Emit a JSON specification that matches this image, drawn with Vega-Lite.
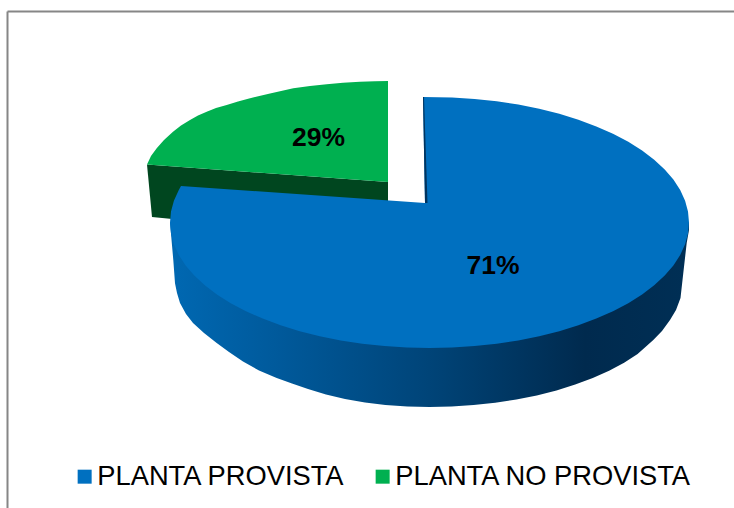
{
"$schema":"https://vega.github.io/schema/vega-lite/v6.json",
"width":727,"height":497,
"autosize":{"type":"none"},
"padding":{"left":7,"top":11,"right":0,"bottom":0},
"background":"white",
"view":{"stroke":null},
"config":{"font":"Liberation Sans"},
"datasets":{
"greenWall":[{"i":1,"x":147,"y":164.5},{"i":2,"x":388,"y":182},{"i":3,"x":388,"y":240},{"i":4,"x":152,"y":217}],
"blueWall":[{"i":1,"x":689,"y":222.5},{"i":2,"x":689,"y":230},{"i":3,"x":686.7,"y":243},{"i":4,"x":683.3,"y":273},{"i":5,"x":680.5,"y":298},{"i":6,"x":676,"y":310},{"i":7,"x":670,"y":320},{"i":8,"x":662,"y":331},{"i":9,"x":653.3,"y":340},{"i":10,"x":637.6,"y":354.1},{"i":11,"x":624.1,"y":362.7},{"i":12,"x":609.1,"y":370.7},{"i":13,"x":592.8,"y":378},{"i":14,"x":575.2,"y":384.6},{"i":15,"x":556.5,"y":390.4},{"i":16,"x":536.8,"y":395.4},{"i":17,"x":516.4,"y":399.5},{"i":18,"x":495.2,"y":402.8},{"i":19,"x":473.6,"y":405.1},{"i":20,"x":451.6,"y":406.5},{"i":21,"x":429.5,"y":407},{"i":22,"x":407.4,"y":406.5},{"i":23,"x":385.4,"y":405},{"i":24,"x":365,"y":402.5},{"i":25,"x":345,"y":399},{"i":26,"x":326,"y":394.5},{"i":27,"x":308,"y":389},{"i":28,"x":292,"y":383.5},{"i":29,"x":276.7,"y":378},{"i":30,"x":259,"y":370.5},{"i":31,"x":243,"y":361.5},{"i":32,"x":229,"y":352},{"i":33,"x":216.7,"y":343},{"i":34,"x":204,"y":333},{"i":35,"x":193,"y":323},{"i":36,"x":186,"y":314},{"i":37,"x":180,"y":303},{"i":38,"x":177,"y":293},{"i":39,"x":175,"y":283.3},{"i":40,"x":173.3,"y":260},{"i":41,"x":170,"y":222.5}],
"blueInner":[{"i":1,"x":423,"y":97},{"i":2,"x":424,"y":97},{"i":3,"x":427.5,"y":203},{"i":4,"x":425,"y":203}],
"tops":[
{"slice":"PLANTA NO PROVISTA","i":1,"x":388,"y":81},{"slice":"PLANTA NO PROVISTA","i":2,"x":388,"y":182},{"slice":"PLANTA NO PROVISTA","i":3,"x":147,"y":164.5},{"slice":"PLANTA NO PROVISTA","i":4,"x":151,"y":156},{"slice":"PLANTA NO PROVISTA","i":5,"x":156.7,"y":148.3},{"slice":"PLANTA NO PROVISTA","i":6,"x":164,"y":140},{"slice":"PLANTA NO PROVISTA","i":7,"x":173,"y":131.7},{"slice":"PLANTA NO PROVISTA","i":8,"x":181,"y":125.5},{"slice":"PLANTA NO PROVISTA","i":9,"x":190,"y":120},{"slice":"PLANTA NO PROVISTA","i":10,"x":198,"y":115.5},{"slice":"PLANTA NO PROVISTA","i":11,"x":206.7,"y":111.7},{"slice":"PLANTA NO PROVISTA","i":12,"x":216,"y":108},{"slice":"PLANTA NO PROVISTA","i":13,"x":226.7,"y":105},{"slice":"PLANTA NO PROVISTA","i":14,"x":238,"y":101.5},{"slice":"PLANTA NO PROVISTA","i":15,"x":250,"y":98.3},{"slice":"PLANTA NO PROVISTA","i":16,"x":270,"y":93.5},{"slice":"PLANTA NO PROVISTA","i":17,"x":293.3,"y":88.3},{"slice":"PLANTA NO PROVISTA","i":18,"x":310,"y":86},{"slice":"PLANTA NO PROVISTA","i":19,"x":326.7,"y":84.3},{"slice":"PLANTA NO PROVISTA","i":20,"x":343,"y":82.8},{"slice":"PLANTA NO PROVISTA","i":21,"x":360,"y":81.7},{"slice":"PLANTA NO PROVISTA","i":22,"x":375,"y":81.2},
{"slice":"PLANTA PROVISTA","i":1,"x":423,"y":97},{"slice":"PLANTA PROVISTA","i":2,"x":452.1,"y":97.5},{"slice":"PLANTA PROVISTA","i":3,"x":474.6,"y":98.9},{"slice":"PLANTA PROVISTA","i":4,"x":496.7,"y":101.3},{"slice":"PLANTA PROVISTA","i":5,"x":518.3,"y":104.6},{"slice":"PLANTA PROVISTA","i":6,"x":539.2,"y":108.8},{"slice":"PLANTA PROVISTA","i":7,"x":559.3,"y":113.8},{"slice":"PLANTA PROVISTA","i":8,"x":578.4,"y":119.7},{"slice":"PLANTA PROVISTA","i":9,"x":596.3,"y":126.4},{"slice":"PLANTA PROVISTA","i":10,"x":613,"y":133.8},{"slice":"PLANTA PROVISTA","i":11,"x":628.3,"y":141.8},{"slice":"PLANTA PROVISTA","i":12,"x":642.1,"y":150.5},{"slice":"PLANTA PROVISTA","i":13,"x":654.2,"y":159.8},{"slice":"PLANTA PROVISTA","i":14,"x":664.7,"y":169.5},{"slice":"PLANTA PROVISTA","i":15,"x":673.4,"y":179.6},{"slice":"PLANTA PROVISTA","i":16,"x":680.2,"y":190},{"slice":"PLANTA PROVISTA","i":17,"x":685.1,"y":200.7},{"slice":"PLANTA PROVISTA","i":18,"x":688,"y":211.6},{"slice":"PLANTA PROVISTA","i":19,"x":689,"y":222.5},{"slice":"PLANTA PROVISTA","i":20,"x":688,"y":233.4},{"slice":"PLANTA PROVISTA","i":21,"x":685.1,"y":244.3},{"slice":"PLANTA PROVISTA","i":22,"x":680.2,"y":255},{"slice":"PLANTA PROVISTA","i":23,"x":673.4,"y":265.4},{"slice":"PLANTA PROVISTA","i":24,"x":664.7,"y":275.5},{"slice":"PLANTA PROVISTA","i":25,"x":654.2,"y":285.3},{"slice":"PLANTA PROVISTA","i":26,"x":642.1,"y":294.5},{"slice":"PLANTA PROVISTA","i":27,"x":628.3,"y":303.2},{"slice":"PLANTA PROVISTA","i":28,"x":613,"y":311.2},{"slice":"PLANTA PROVISTA","i":29,"x":596.3,"y":318.6},{"slice":"PLANTA PROVISTA","i":30,"x":578.4,"y":325.3},{"slice":"PLANTA PROVISTA","i":31,"x":559.3,"y":331.2},{"slice":"PLANTA PROVISTA","i":32,"x":539.2,"y":336.2},{"slice":"PLANTA PROVISTA","i":33,"x":518.3,"y":340.4},{"slice":"PLANTA PROVISTA","i":34,"x":496.7,"y":343.7},{"slice":"PLANTA PROVISTA","i":35,"x":474.6,"y":346.1},{"slice":"PLANTA PROVISTA","i":36,"x":452.1,"y":347.5},{"slice":"PLANTA PROVISTA","i":37,"x":429.5,"y":348},{"slice":"PLANTA PROVISTA","i":38,"x":406.9,"y":347.5},{"slice":"PLANTA PROVISTA","i":39,"x":384.4,"y":346.1},{"slice":"PLANTA PROVISTA","i":40,"x":362.3,"y":343.7},{"slice":"PLANTA PROVISTA","i":41,"x":340.7,"y":340.4},{"slice":"PLANTA PROVISTA","i":42,"x":319.8,"y":336.2},{"slice":"PLANTA PROVISTA","i":43,"x":299.7,"y":331.2},{"slice":"PLANTA PROVISTA","i":44,"x":280.6,"y":325.3},{"slice":"PLANTA PROVISTA","i":45,"x":262.7,"y":318.6},{"slice":"PLANTA PROVISTA","i":46,"x":246,"y":311.2},{"slice":"PLANTA PROVISTA","i":47,"x":230.7,"y":303.2},{"slice":"PLANTA PROVISTA","i":48,"x":216.9,"y":294.5},{"slice":"PLANTA PROVISTA","i":49,"x":204.8,"y":285.3},{"slice":"PLANTA PROVISTA","i":50,"x":194.3,"y":275.5},{"slice":"PLANTA PROVISTA","i":51,"x":185.6,"y":265.4},{"slice":"PLANTA PROVISTA","i":52,"x":178.8,"y":255},{"slice":"PLANTA PROVISTA","i":53,"x":173.9,"y":244.3},{"slice":"PLANTA PROVISTA","i":54,"x":171,"y":233.4},{"slice":"PLANTA PROVISTA","i":55,"x":170,"y":222.5},{"slice":"PLANTA PROVISTA","i":56,"x":171,"y":211.6},{"slice":"PLANTA PROVISTA","i":57,"x":173.9,"y":200.7},{"slice":"PLANTA PROVISTA","i":58,"x":178.8,"y":190},{"slice":"PLANTA PROVISTA","i":59,"x":181,"y":186},{"slice":"PLANTA PROVISTA","i":60,"x":425,"y":203}
],
"labels":[{"slice":"PLANTA PROVISTA","share":"71%","x":493,"y":266},{"slice":"PLANTA NO PROVISTA","share":"29%","x":318.5,"y":138}]
},
"encoding":{
"x":{"field":"x","type":"quantitative","scale":{"domain":[7,734],"nice":false,"zero":false},"axis":{"orient":"top","title":null,"labels":false,"ticks":false,"grid":false,"domain":true,"domainColor":"#868686","domainWidth":2}},
"y":{"field":"y","type":"quantitative","scale":{"domain":[508,11],"nice":false,"zero":false},"axis":{"orient":"left","title":null,"labels":false,"ticks":false,"grid":false,"domain":true,"domainColor":"#868686","domainWidth":2}}
},
"layer":[
{"data":{"name":"greenWall"},"mark":{"type":"line","fill":"#00461F","strokeWidth":0},"encoding":{"order":{"field":"i"}}},
{"data":{"name":"blueWall"},"mark":{"type":"line","strokeWidth":0,"fill":{"gradient":"linear","x1":0,"y1":0,"x2":1,"y2":0,"stops":[{"offset":0,"color":"#0068B2"},{"offset":0.2,"color":"#005A9C"},{"offset":0.5,"color":"#004478"},{"offset":0.8,"color":"#002A4E"},{"offset":1,"color":"#002F55"}]}},"encoding":{"order":{"field":"i"}}},
{"data":{"name":"tops"},"mark":{"type":"line","strokeWidth":0},"encoding":{"order":{"field":"i"},"fill":{"field":"slice","type":"nominal","scale":{"domain":["PLANTA PROVISTA","PLANTA NO PROVISTA"],"range":["#0070C0","#00B050"]},"legend":{"orient":"none","legendX":64,"legendY":452,"direction":"horizontal","columns":2,"title":null,"padding":0,"symbolType":"square","symbolSize":196,"symbolStrokeWidth":0,"labelFont":"Liberation Sans","labelFontSize":27.3,"labelColor":"#000000","labelOffset":-1,"labelLimit":400,"columnPadding":23,"symbolOffset":0}}}},
{"data":{"name":"blueInner"},"mark":{"type":"line","fill":"#00345F","strokeWidth":0},"encoding":{"order":{"field":"i"}}},
{"data":{"name":"labels"},"mark":{"type":"text","font":"Liberation Sans","fontWeight":"bold","fontSize":26.5,"color":"#000000","align":"center","baseline":"middle"},"encoding":{"text":{"field":"share"}}}
]
}
